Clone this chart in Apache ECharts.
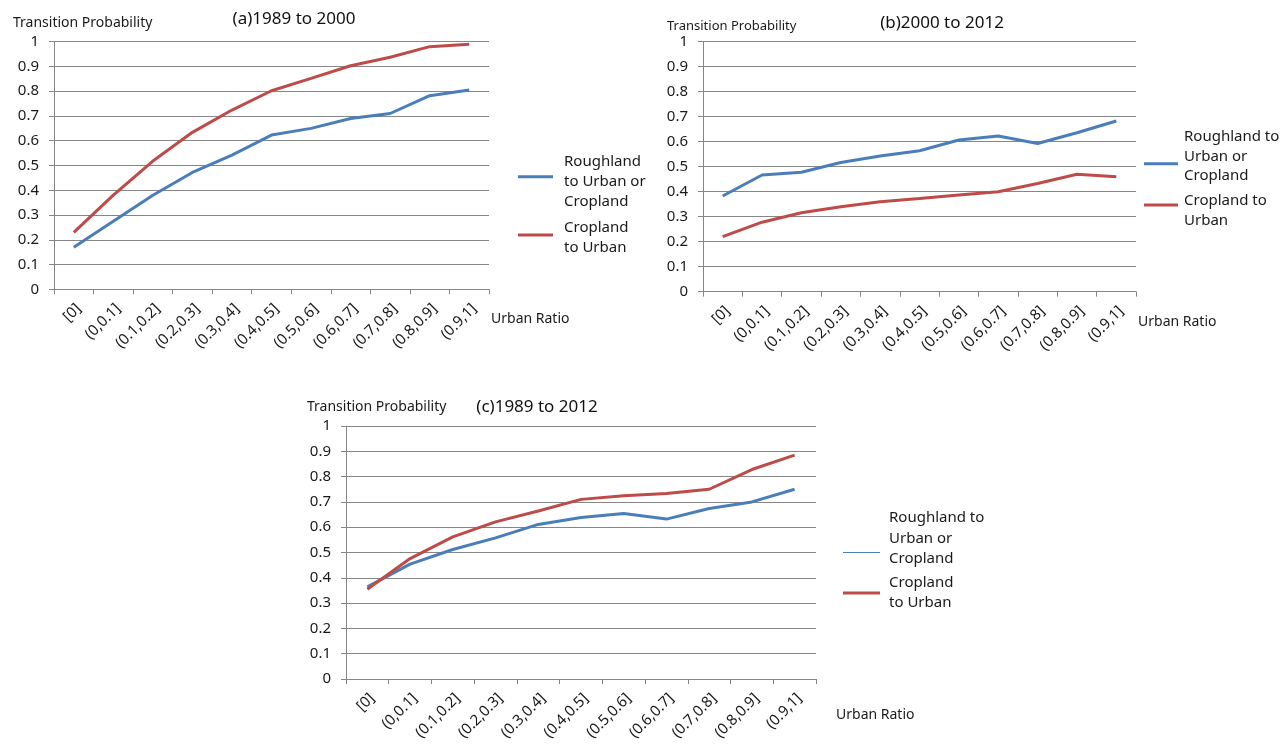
<!DOCTYPE html>
<html><head><meta charset="utf-8">
<script src="https://cdn.jsdelivr.net/npm/echarts@6/dist/echarts.min.js"></script>
<style>html,body{margin:0;padding:0;background:#fff}#c{width:1287px;height:751px}</style>
</head><body><div id="c"></div>
<script>
var categories = ['[0]','(0,0.1]','(0.1,0.2]','(0.2,0.3]','(0.3,0.4]','(0.4,0.5]','(0.5,0.6]','(0.6,0.7]','(0.7,0.8]','(0.8,0.9]','(0.9,1]'];
var yTicks = [0,0.1,0.2,0.3,0.4,0.5,0.6,0.7,0.8,0.9,1];
var roughA = [0.17,0.275,0.38,0.472,0.542,0.623,0.65,0.69,0.71,0.782,0.805];
var cropA  = [0.23,0.38,0.518,0.634,0.724,0.802,0.852,0.903,0.937,0.98,0.99];
var roughB = [0.383,0.467,0.478,0.517,0.543,0.564,0.607,0.623,0.593,0.636,0.683];
var cropB  = [0.22,0.278,0.316,0.34,0.36,0.373,0.387,0.4,0.433,0.47,0.46];
var roughC = [0.364,0.454,0.512,0.558,0.611,0.638,0.654,0.632,0.674,0.70,0.75];
var cropC  = [0.355,0.476,0.562,0.621,0.664,0.71,0.724,0.733,0.75,0.828,0.885];
var titles = ['(a)1989 to 2000','(b)2000 to 2012','(c)1989 to 2012'];
var nameR = 'Roughland to Urban or Cropland', nameC = 'Cropland to Urban';
var legendTextR = [['Roughland','to Urban or','Cropland'],['Roughland to','Urban or','Cropland'],['Roughland to','Urban or','Cropland']];
var legendTextC = [['Cropland','to Urban'],['Cropland to','Urban'],['Cropland','to Urban']];

var FONT = 'Noto Sans';
var BLUE = '#4A7EBB', RED = '#BE4B48', GRID = '#868686', TXT = '#1a1a1a';
var grids = [
  {left:54, top:41.7, width:435, height:247.6},
  {left:703, top:41.7, width:433, height:250},
  {left:346, top:426, width:470, height:253}
];
var yNamePad = [[0,0,0,-41],[0,0,0,-36],[0,0,0,-39]];
var yNameSize = [14,13,14];
var yNameGap = [12,9,12];
var xNamePad = [[23,0,0,0],[23,0,0,0],[29,0,0,18]];
function xAx(i){return {type:'category', gridIndex:i, data:categories, boundaryGap:true,
  axisLine:{lineStyle:{color:GRID}}, axisTick:{show:true, length:5, lineStyle:{color:GRID}},
  axisLabel:{rotate:45, color:TXT, fontFamily:FONT, fontSize:15, interval:0, margin:22, padding:[0,-7,0,0]},
  name:'Urban Ratio', nameLocation:'end', nameGap:2,
  nameTextStyle:{color:TXT, fontFamily:FONT, fontSize:14, align:'left', verticalAlign:'top', padding:xNamePad[i]}};}
function yAx(i){return {type:'value', gridIndex:i, min:0, max:1, interval:0.1,
  axisLine:{show:true, lineStyle:{color:GRID}}, axisTick:{show:true, length:5, lineStyle:{color:GRID}},
  splitLine:{lineStyle:{color:GRID, width:1}},
  axisLabel:{color:TXT, fontFamily:FONT, fontSize:15, margin:15, formatter:function(v){return String(+v.toFixed(1));}},
  name:'Transition Probability', nameLocation:'end', nameGap:yNameGap[i],
  nameTextStyle:{color:TXT, fontFamily:FONT, fontSize:yNameSize[i], align:'left', padding:yNamePad[i]}};}
function ser(name, i, data, color, w){return {name:name, type:'line', xAxisIndex:i, yAxisIndex:i, data:data,
  symbol:'none', showSymbol:false, lineStyle:{color:color, width:w}, itemStyle:{color:color}, z:3, animation:false};}
function lineIcon(w,h){return 'path://M0,0L'+w+',0L'+w+','+h+'L0,'+h+'Z';}
// one legend per item so every block can be placed like the reference
function leg(name, lines, left, top, iw, lw, color, lh, textGap, spTop, spBot){
  var parts = [];
  if (spTop) parts.push('{sp|}');
  lines.forEach(function(l){ parts.push('{t|'+l+'}'); });
  if (spBot) parts.push('{sb|}');
  var txt = parts.join('\n');
  return {orient:'vertical', left:left, top:top, padding:0, itemWidth:iw, itemHeight:3,
    symbolKeepAspect:true, selectedMode:false,
    data:[{name:name, icon:lineIcon(iw, lw), itemStyle:{color:color}}],
    textStyle:{fontFamily:FONT, fontSize:15, color:TXT, padding:[0,0,0,textGap],
      rich:{t:{fontFamily:FONT, fontSize:15, color:TXT, lineHeight:lh},
            sp:{lineHeight:spTop||1, height:spTop||1, fontSize:1},
            sb:{lineHeight:spBot||1, height:spBot||1, fontSize:1}}},
    formatter:function(){return txt;}};
}
var tStyle = {fontFamily:FONT, fontSize:17, fontWeight:'normal', color:'#111'};
var option = {
  backgroundColor:'#fff',
  title:[
    {text:titles[0], left:289, top:6, textAlign:'center', textStyle:tStyle},
    {text:titles[1], left:937, top:10, textAlign:'center', textStyle:tStyle},
    {text:titles[2], left:532, top:394, textAlign:'center', textStyle:tStyle}
  ],
  grid:grids,
  xAxis:[xAx(0),xAx(1),xAx(2)],
  yAxis:[yAx(0),yAx(1),yAx(2)],
  legend:[
    leg(nameR, legendTextR[0], 518, 141.7, 35, 3, BLUE, 20, 6, 10, 0),
    leg(nameC, legendTextC[0], 518, 212, 35, 3, RED, 20, 6, 6, 0),
    leg(nameR, legendTextR[1], 1144, 129.5, 34, 3, BLUE, 19.5, 1, 0, 14.6),
    leg(nameC, legendTextC[1], 1144, 179, 34, 3, RED, 20, 1, 12, 0),
    leg(nameR, legendTextR[2], 843, 510.5, 37, 1.2, BLUE, 20.5, 4, 0, 28),
    leg(nameC, legendTextC[2], 843, 575.5, 37, 3, RED, 20, 4, 0, 0)
  ],
  series:[
    ser(nameR,0,roughA,BLUE,3), ser(nameC,0,cropA,RED,3),
    ser(nameR,1,roughB,BLUE,3), ser(nameC,1,cropB,RED,3),
    ser(nameR,2,roughC,BLUE,3), ser(nameC,2,cropC,RED,3)
  ]
};
var chart = echarts.init(document.getElementById('c'));
chart.setOption(option);
</script></body></html>
